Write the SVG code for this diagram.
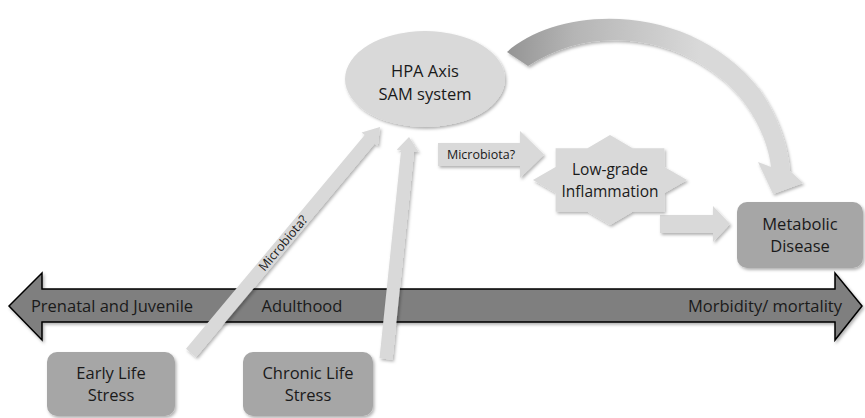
<svg xmlns="http://www.w3.org/2000/svg" width="865" height="418" viewBox="0 0 865 418">
  <defs>
    <filter id="shadow" x="-20%" y="-20%" width="140%" height="140%">
      <feDropShadow dx="1.5" dy="2" stdDeviation="1.5" flood-color="#000" flood-opacity="0.3"/>
    </filter>
    <linearGradient id="arcFill" gradientUnits="userSpaceOnUse" x1="505" y1="50" x2="700" y2="60">
      <stop offset="0" stop-color="#939393"/>
      <stop offset="0.35" stop-color="#b5b5b5"/>
      <stop offset="1" stop-color="#d9d9d9"/>
    </linearGradient>
  </defs>
  <style>
    .lbl { font-family: "Open Sans", "Noto Sans", "Liberation Sans", sans-serif; fill: #1a1a1a; text-anchor: middle; }
    .big { font-size: 16.5px; }
    .mid { font-size: 15.5px; }
    .small { font-size: 12.5px; }
    .light { fill: #d9d9d9; filter: url(#shadow); }
    .box { fill: #a6a6a6; filter: url(#shadow); }
    .timeline { fill: #7f7f7f; stroke: #000; stroke-width: 1.5; stroke-linejoin: miter; filter: url(#shadow); }
  </style>

  <!-- time axis -->
  <g id="timeline">
    <polygon class="timeline" points="9,306 42,273 42,289 835,289 835,273 862,306 835,340 835,322 42,322 42,340"/>
    <text class="lbl big" x="112" y="312">Prenatal and Juvenile</text>
    <text class="lbl big" x="302" y="312">Adulthood</text>
    <text class="lbl big" x="842" y="312" style="text-anchor:end">Morbidity/ mortality</text>
  </g>

  <!-- connectors -->
  <g id="connectors">
    <!-- early life stress to HPA axis -->
    <polygon class="light" points="186.0,348.8 364.7,135.1 361.6,132.6 380,127 377.8,146.0 374.7,143.5 196.0,357.2"/>
    <text class="lbl small" transform="translate(283,243) rotate(-50.1)" x="0" y="4.5">Microbiota?</text>
    <!-- chronic life stress to HPA axis -->
    <polygon class="light" points="379.5,358.3 401.1,150.2 396.7,149.8 409,137 418.5,152.0 414.1,151.6 392.5,359.7"/>
    <!-- HPA axis to inflammation -->
    <polygon class="light" points="438,143 520,143 520,131 544,154.5 520,178 520,166 438,166"/>
    <text class="lbl small" x="481" y="159">Microbiota?</text>
    <!-- inflammation to metabolic disease -->
    <polygon class="light" points="660,215 713,215 713,206 730,224 713,242 713,233 660,233"/>
    <!-- HPA axis to metabolic disease (curved) -->
    <path fill="url(#arcFill)" filter="url(#shadow)" d="M507,52 C560,5 690,0 760,90 C778,116 788,146 790,171 L803,183 L773,194 L758,162 L771,167 C768,140 752,105 723,80 C670,35 590,25 528,66 Z"/>
  </g>

  <g id="hpa">
    <ellipse class="light" cx="425" cy="79" rx="80" ry="48"/>
    <text class="lbl big" x="425" y="77">HPA Axis</text>
    <text class="lbl big" x="425" y="100">SAM system</text>
  </g>

  <g id="inflammation">
    <polygon class="light" points="687,180 664.4,167.0 664.4,148.2 632.5,148.2 610,135 587.5,148.2 555.6,148.2 555.6,167.0 533,180 555.6,193.0 555.6,211.8 587.5,211.8 610,225 632.5,211.8 664.4,211.8 664.4,193.0"/>
    <text class="lbl mid" x="610" y="175">Low-grade</text>
    <text class="lbl mid" x="610" y="197">Inflammation</text>
  </g>

  <g id="metabolic">
    <rect class="box" x="737" y="202" width="126" height="66" rx="10"/>
    <text class="lbl big" x="800" y="230">Metabolic</text>
    <text class="lbl big" x="800" y="252">Disease</text>
  </g>

  <g id="early">
    <rect class="box" x="47" y="352" width="128" height="64" rx="10"/>
    <text class="lbl big" x="111" y="379">Early Life</text>
    <text class="lbl big" x="111" y="401">Stress</text>
  </g>

  <g id="chronic">
    <rect class="box" x="243" y="352" width="130" height="64" rx="10"/>
    <text class="lbl big" x="308" y="379">Chronic Life</text>
    <text class="lbl big" x="308" y="401">Stress</text>
  </g>
</svg>
